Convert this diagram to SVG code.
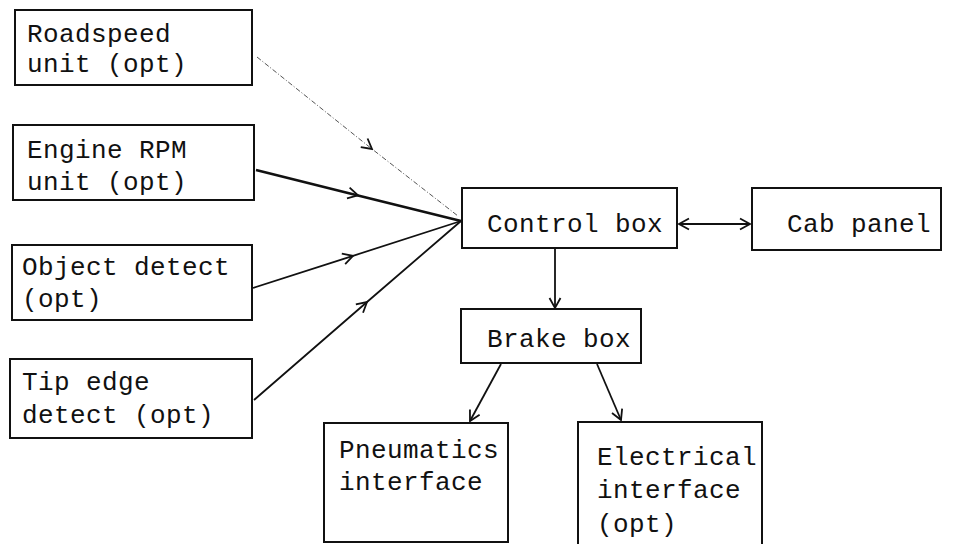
<svg xmlns="http://www.w3.org/2000/svg" width="969" height="544" viewBox="0 0 969 544">
  <style>
    .box { fill: #ffffff; stroke: #111111; stroke-width: 2; }
    .lbl { font-family: "Liberation Mono", "DejaVu Sans Mono", monospace; font-size: 26px; letter-spacing: 0.4px; fill: #111111; }
    .wire { fill: none; stroke: #111111; stroke-width: 1.8; }
    .heavy { stroke-width: 2.6; }
    .faint { stroke: #555555; stroke-width: 1; stroke-dasharray: 5 2 1 2; }
  </style>
  <defs>
    <marker id="vee" viewBox="-12 -7 14 14" markerWidth="14" markerHeight="14" refX="0" refY="0" orient="auto" markerUnits="userSpaceOnUse">
      <path d="M -10 -5.5 L 0 0 L -10 5.5" fill="none" stroke="#111111" stroke-width="1.8"/>
    </marker>
    <marker id="veeStart" viewBox="-2 -7 14 14" markerWidth="14" markerHeight="14" refX="0" refY="0" orient="auto" markerUnits="userSpaceOnUse">
      <path d="M 10 -5.5 L 0 0 L 10 5.5" fill="none" stroke="#111111" stroke-width="1.8"/>
    </marker>
  </defs>

  <rect width="969" height="544" fill="#ffffff"/>

  <!-- connectors -->
  <g id="connectors">
    <polyline class="wire faint" points="257,57 372,149 458,216" marker-mid="url(#vee)"/>
    <polyline class="wire heavy" points="256,170 358,195.4 461,221" marker-mid="url(#vee)"/>
    <polyline class="wire" points="253,288 353,255.8 461,221" marker-mid="url(#vee)"/>
    <polyline class="wire" points="254,400 367,302 461,221" marker-mid="url(#vee)"/>
    <line class="wire" x1="679" y1="224" x2="750" y2="224" marker-start="url(#veeStart)" marker-end="url(#vee)"/>
    <line class="wire" x1="555" y1="249" x2="555" y2="308" marker-end="url(#vee)"/>
    <line class="wire" x1="501" y1="364" x2="470" y2="421" marker-end="url(#vee)"/>
    <line class="wire" x1="597" y1="364" x2="621" y2="420" marker-end="url(#vee)"/>
  </g>

  <!-- input units -->
  <g id="roadspeed">
    <rect class="box" x="15" y="10" width="237" height="75"/>
    <text class="lbl" x="27" y="42">Roadspeed</text>
    <text class="lbl" x="27" y="72">unit (opt)</text>
  </g>
  <g id="engine-rpm">
    <rect class="box" x="13" y="125" width="241" height="75"/>
    <text class="lbl" x="27" y="158">Engine RPM</text>
    <text class="lbl" x="27" y="190">unit (opt)</text>
  </g>
  <g id="object-detect">
    <rect class="box" x="12" y="245" width="240" height="75"/>
    <text class="lbl" x="22" y="275">Object detect</text>
    <text class="lbl" x="22" y="307">(opt)</text>
  </g>
  <g id="tip-edge">
    <rect class="box" x="10" y="359" width="242" height="79"/>
    <text class="lbl" x="22" y="390">Tip edge</text>
    <text class="lbl" x="22" y="423">detect (opt)</text>
  </g>

  <!-- central units -->
  <g id="control-box">
    <rect class="box" x="462" y="188" width="215" height="60"/>
    <text class="lbl" x="487" y="232">Control box</text>
  </g>
  <g id="cab-panel">
    <rect class="box" x="752" y="188" width="189" height="62"/>
    <text class="lbl" x="787" y="232">Cab panel</text>
  </g>
  <g id="brake-box">
    <rect class="box" x="461" y="309" width="180" height="54"/>
    <text class="lbl" x="487" y="347">Brake box</text>
  </g>

  <!-- outputs -->
  <g id="pneumatics">
    <rect class="box" x="324" y="423" width="184" height="119"/>
    <text class="lbl" x="339" y="458">Pneumatics</text>
    <text class="lbl" x="339" y="490">interface</text>
  </g>
  <g id="electrical">
    <rect class="box" x="578" y="422" width="184" height="130"/>
    <text class="lbl" x="597" y="465">Electrical</text>
    <text class="lbl" x="597" y="498">interface</text>
    <text class="lbl" x="597" y="532">(opt)</text>
  </g>
</svg>
